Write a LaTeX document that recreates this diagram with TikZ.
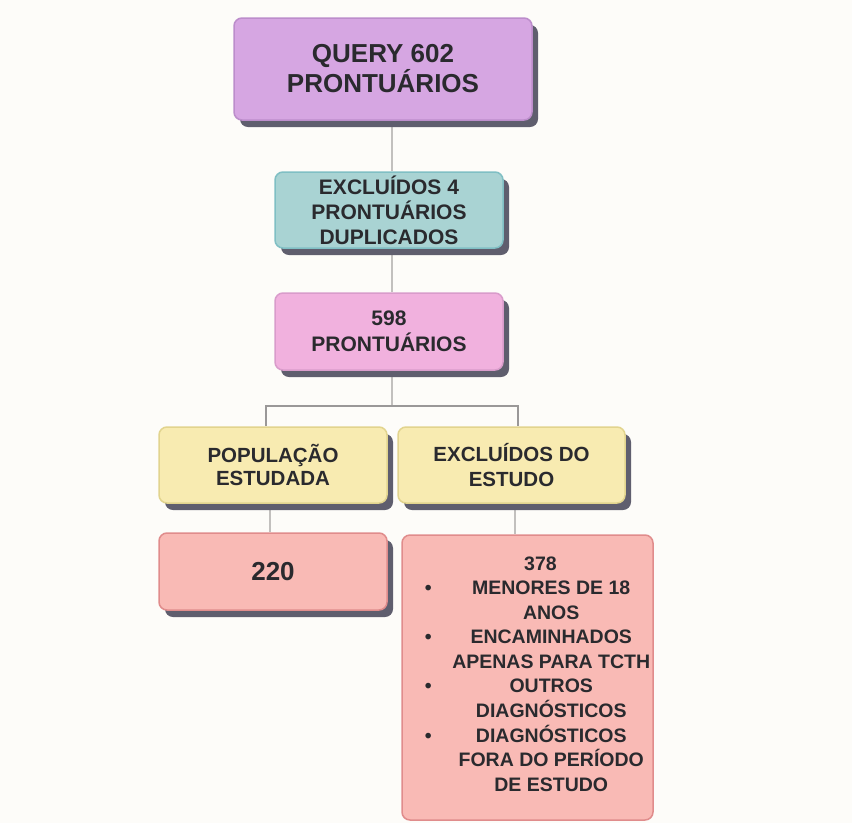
\documentclass[tikz,border=0pt]{standalone}
\usepackage{fontspec}
\setmainfont{Liberation Sans}
\usepackage{array}
\usetikzlibrary{shadows, backgrounds}
\definecolor{bgc}{HTML}{FDFCF9}
\definecolor{txtc}{HTML}{2A2A2E}
\definecolor{shadowc}{HTML}{5F5E6E}
\definecolor{linec}{HTML}{C2C0BE}
\definecolor{branchc}{HTML}{9A9898}
\definecolor{lilac}{HTML}{D6A6E2}
\definecolor{lilacd}{HTML}{BC8DCB}
\definecolor{teal}{HTML}{A9D3D3}
\definecolor{teald}{HTML}{80BFC4}
\definecolor{rose}{HTML}{F1B1DE}
\definecolor{rosed}{HTML}{D99CCB}
\definecolor{sand}{HTML}{F8EBB1}
\definecolor{sandd}{HTML}{E2D48E}
\definecolor{salmon}{HTML}{F9BAB5}
\definecolor{salmond}{HTML}{E08C8C}
\pagecolor{bgc}
\newcommand{\fs}[2]{\fontsize{#1}{#2}\selectfont}
\tikzstyle{box} = [draw, rounded corners=8pt, line width=1.5pt, text=txtc, align=center]
\tikzstyle{shade} = [drop shadow={shadow xshift=6pt, shadow yshift=-7pt, fill=shadowc, opacity=1}]
\tikzstyle{link} = [draw=linec, line width=2.5pt]
\tikzstyle{branch} = [draw=branchc, line width=1.8pt]

\begin{document}
\begin{tikzpicture}[x=1pt, y=-1pt]
  \useasboundingbox (0,0) rectangle (852,823);
  % boxes
  \node[box, shade, fill=lilac, draw=lilacd, minimum width=298, minimum height=102,
        font=\bfseries\fs{26}{30}] (query) at (383,69) {QUERY 602\\PRONTUÁRIOS};
  \node[box, shade, fill=teal, draw=teald, minimum width=228, minimum height=76,
        font=\bfseries\fs{21}{25}] (excl) at (389,210) {EXCLUÍDOS 4\\PRONTUÁRIOS\\DUPLICADOS};
  \node[box, shade, fill=rose, draw=rosed, minimum width=228, minimum height=77,
        font=\bfseries\fs{21}{26}] (p598) at (389,331.5) {598\\PRONTUÁRIOS};
  \node[box, shade, fill=sand, draw=sandd, minimum width=228, minimum height=76,
        font=\bfseries\fs{20.5}{23}] (pop) at (273,465) {POPULAÇÃO\\ESTUDADA};
  \node[box, shade, fill=sand, draw=sandd, minimum width=227, minimum height=76,
        font=\bfseries\fs{20.5}{25}] (exc) at (511.5,465) {EXCLUÍDOS DO\\ESTUDO};
  \node[box, shade, fill=salmon, draw=salmond, minimum width=228, minimum height=77,
        font=\bfseries\fs{26}{30}] (n220) at (273,571.5) {220};
  \node[box, fill=salmon, draw=salmond, minimum width=251, minimum height=285] (n378) at (527.5,677.5) {};
  \node[text=txtc, inner sep=0, font=\bfseries\fs{19.5}{24.5}] (n378txt) at (540.5,676) {%
    \begin{tabular}{@{}>{\centering}p{12pt}@{\hspace{9.5pt}}>{\centering\arraybackslash}p{215pt}@{}}
      \multicolumn{2}{c}{378}\\
      \textbullet & MENORES DE 18\\
                  & ANOS\\
      \textbullet & ENCAMINHADOS\\
                  & APENAS PARA TCTH\\
      \textbullet & OUTROS\\
                  & DIAGNÓSTICOS\\
      \textbullet & DIAGNÓSTICOS\\
                  & FORA DO PERÍODO\\
                  & DE ESTUDO
    \end{tabular}};
  % connectors
  \coordinate (trunk) at (392,0);
  \coordinate (split) at (392,406);
  \coordinate (lft) at (266,0);
  \coordinate (rgt) at (518,0);
  \coordinate (lft2) at (270,0);
  \coordinate (rgt2) at (515,0);
  \begin{scope}[on background layer]
    \draw[link] (query.south -| trunk) -- (excl.north -| trunk);
    \draw[link] (excl.south -| trunk) -- (p598.north -| trunk);
    \draw[link] (p598.south -| trunk) -- (split);
    \draw[branch] (pop.north -| lft) |- (split) -| (exc.north -| rgt);
    \draw[link] (pop.south -| lft2) -- (n220.north -| lft2);
    \draw[link] (exc.south -| rgt2) -- (n378.north -| rgt2);
  \end{scope}
\end{tikzpicture}
\end{document}
